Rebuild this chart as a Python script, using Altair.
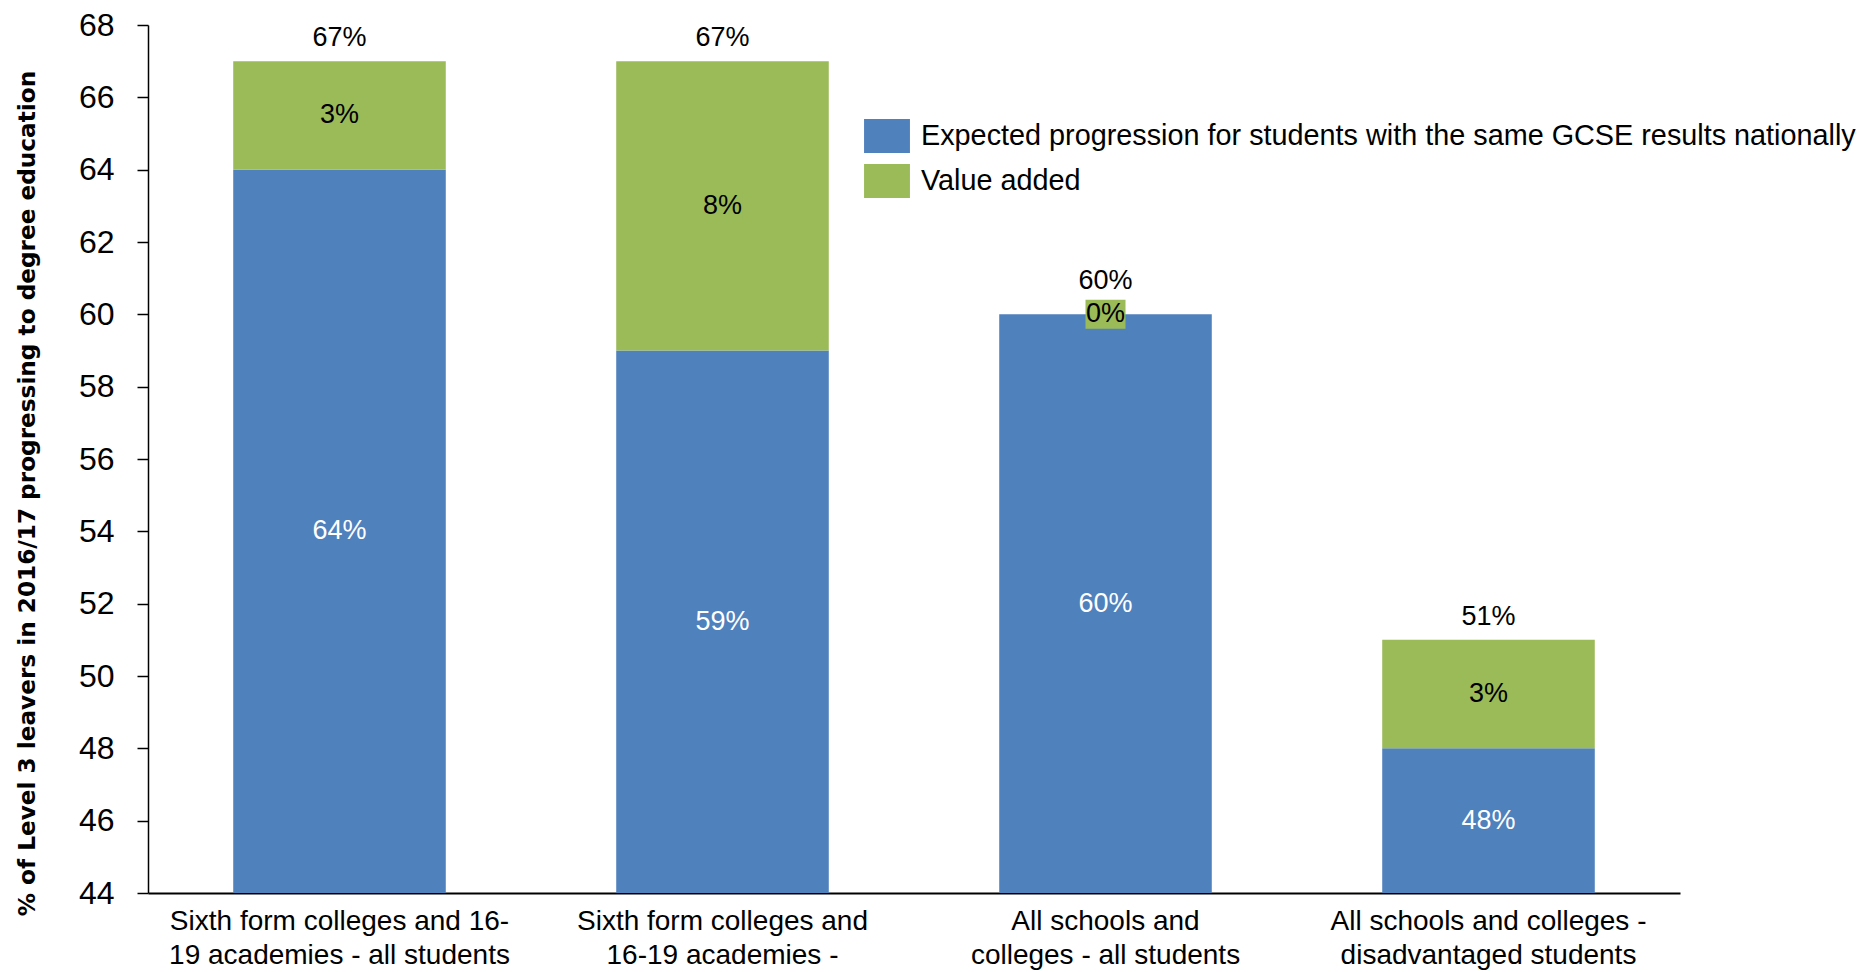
import altair as alt
import pandas as pd

# ---- data ----
cat_line1 = ["Sixth form colleges and 16-", "Sixth form colleges and", "All schools and", "All schools and colleges -"]
cat_line2 = ["19 academies - all students", "16-19 academies -", "colleges - all students", "disadvantaged students"]
expected = [64, 59, 60, 48]
value_added = [3, 8, 0, 3]
series_names = ["Expected progression for students with the same GCSE results nationally", "Value added"]
series_colors = ["#4F81BD", "#9BBB59"]
y_ticks = list(range(44, 69, 2))
y_min, y_max = 44, 68

categories = [a + "\n" + b for a, b in zip(cat_line1, cat_line2)]

rows = []
for c, e, v in zip(categories, expected, value_added):
    rows.append(dict(cat=c, series=series_names[0], lo=0, hi=e, val=e, txtcol="white"))
    rows.append(dict(cat=c, series=series_names[1], lo=e, hi=e + v, val=v, txtcol="black"))
df = pd.DataFrame(rows)
df["mid"] = [((max(y_min, lo) + hi) / 2) for lo, hi in zip(df["lo"], df["hi"])]
df["label"] = df["val"].astype(str) + "%"

tot = pd.DataFrame(dict(cat=categories, added=value_added,
                        total=[e + v for e, v in zip(expected, value_added)]))
tot["label"] = tot["total"].astype(str) + "%"

FONT = "Liberation Sans"

xenc = alt.X("cat:N", sort=categories, title=None,
             scale=alt.Scale(paddingInner=0.445, paddingOuter=0.2225),
             axis=alt.Axis(labelExpr="split(datum.label, '\\n')", labelAngle=0, ticks=False,
                           domainColor="#000000", domainWidth=2, labelFont=FONT, labelFontSize=28,
                           labelColor="#000000", labelLineHeight=34, labelPadding=14, labelLimit=600))
yscale = alt.Scale(domain=[y_min, y_max], nice=False, zero=False)

color = alt.Color("series:N", scale=alt.Scale(domain=series_names, range=series_colors),
                  legend=alt.Legend(title=None, orient="none", legendX=722, legendY=94,
                                    symbolType="M-1.35,-1H1.35V1H-1.35Z", symbolSize=1156,
                                    symbolStrokeWidth=0, symbolOpacity=1, labelFont=FONT,
                                    labelFontSize=28.8, labelColor="#000000", labelOffset=17,
                                    rowPadding=11, labelLimit=1200, padding=0))

bars = alt.Chart(df).mark_bar(clip=True).encode(
    x=xenc,
    y=alt.Y("lo:Q", scale=yscale,
            axis=alt.Axis(values=y_ticks, grid=False, domainColor="#000000", domainWidth=1.5,
                          tickColor="#000000", tickSize=11, tickWidth=1.5, labelFont=FONT,
                          labelFontSize=32, labelColor="#000000", labelPadding=23,
                          title="% of Level 3 leavers in 2016/17 progressing to degree education",
                          titleFont="DejaVu Sans", titleFontWeight="bold", titleFontSize=23.2,
                          titleColor="#000000", titleAngle=270, titleX=-121, titleY=468,
                          titleAlign="center", titleBaseline="middle")),
    y2="hi:Q",
    color=color,
)

boxes = alt.Chart(df[df["series"] == series_names[1]]).mark_point(
    shape="M-1.38,-1H1.38V1H-1.38Z", size=841, filled=True, opacity=1, color=series_colors[1]
).encode(x=alt.X("cat:N", sort=categories), y=alt.Y("mid:Q", scale=yscale))

seg_text = alt.Chart(df).mark_text(font=FONT, fontSize=27, baseline="middle").encode(
    x=alt.X("cat:N", sort=categories), y=alt.Y("mid:Q", scale=yscale),
    text="label:N", color=alt.Color("txtcol:N", scale=None))

tot_base = alt.Chart(tot)
tot_text = tot_base.transform_filter("datum.added > 0").mark_text(
    font=FONT, fontSize=27, baseline="middle", dy=-23, color="#000000").encode(
    x=alt.X("cat:N", sort=categories), y=alt.Y("total:Q", scale=yscale), text="label:N")
tot_text0 = tot_base.transform_filter("datum.added == 0").mark_text(
    font=FONT, fontSize=27, baseline="middle", dy=-33, color="#000000").encode(
    x=alt.X("cat:N", sort=categories), y=alt.Y("total:Q", scale=yscale), text="label:N")

chart = alt.layer(bars, boxes, seg_text, tot_text, tot_text0).properties(
    width=1532, height=868,
    autosize=alt.AutoSizeParams(type="none"),
    padding={"left": 140, "top": 17, "right": 180, "bottom": 78},
    background="white",
).configure_view(stroke=None)

chart.save("out.html", embed_options={"renderer": "svg", "actions": False})
